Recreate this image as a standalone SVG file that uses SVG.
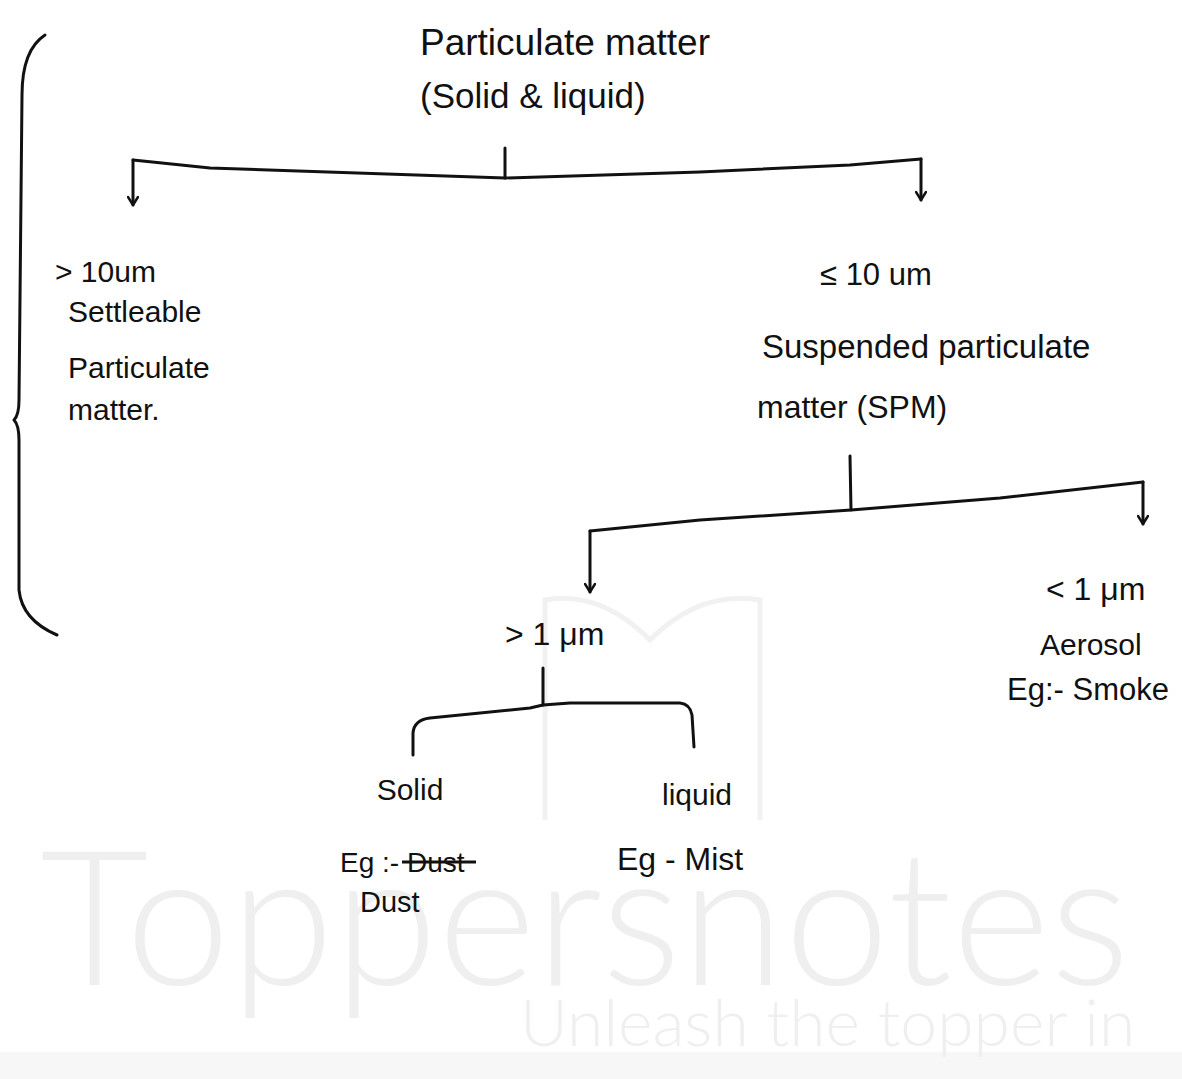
<svg xmlns="http://www.w3.org/2000/svg" width="1182" height="1079" viewBox="0 0 1182 1079">
<style>
.t{font-family:"Liberation Sans","DejaVu Sans",sans-serif;fill:#111;}
.c{fill:none;stroke:#111;stroke-width:3;stroke-linecap:round;stroke-linejoin:round;}
.wm{font-family:Lato,"Open Sans",sans-serif;font-weight:300;fill:#efefef;}
</style>
<defs>
<marker id="ah" viewBox="0 0 12 12" refX="10" refY="6" markerWidth="12" markerHeight="12" markerUnits="userSpaceOnUse" orient="auto">
<path d="M2,1 L10,6 L2,11" fill="none" stroke="#111" stroke-width="2.5" stroke-linecap="round" stroke-linejoin="round"/>
</marker>
</defs>
<rect width="1182" height="1079" fill="#fff"/>
<g id="watermark">
<rect x="0" y="1052" width="1182" height="27" fill="#f7f7f7"/>
<path d="M545,820 L545,600 Q600,590 650,640 Q700,590 760,600 L760,820" fill="none" stroke="#f1f1f1" stroke-width="5"/>
<text class="wm" x="40" y="985" font-size="188">Toppersnotes</text>
<text class="wm" x="520" y="1046" font-size="66">Unleash the topper in</text>
</g>
<g id="connectors">
<path class="c" d="M45,35 Q22,50 22,95 L19,400 Q19,415 14,420 Q19,425 19,440 L19,590 Q22,620 57,635"/>
<path class="c" d="M505,148 L505,178"/>
<path class="c" d="M133,160 L210,168 L505,178 L700,172 L850,165 L921,159"/>
<path class="c" d="M133,160 L133,205" marker-end="url(#ah)"/>
<path class="c" d="M921,159 L921,200" marker-end="url(#ah)"/>
<path class="c" d="M850,456 L851,510"/>
<path class="c" d="M590,531 L700,520 L851,510 L1000,498 L1143,482"/>
<path class="c" d="M590,531 L590,592" marker-end="url(#ah)"/>
<path class="c" d="M1143,482 L1143,524" marker-end="url(#ah)"/>
<path class="c" d="M543,668 L543,705"/>
<path class="c" d="M413,755 L413,733 Q414,720 430,718 L530,708 L543,705 L570,703 L680,703 Q690,704 692,715 L694,747"/>
</g>
<g id="node-root">
<text class="t" x="420" y="55" font-size="37">Particulate matter</text>
<text class="t" x="420" y="108" font-size="35">(Solid &amp; liquid)</text>
</g>
<g id="node-settleable">
<text class="t" x="55" y="282" font-size="30">&gt; 10um</text>
<text class="t" x="68" y="322" font-size="30">Settleable</text>
<text class="t" x="68" y="378" font-size="30">Particulate</text>
<text class="t" x="68" y="420" font-size="30">matter.</text>
</g>
<g id="node-spm">
<text class="t" x="820" y="285" font-size="31">≤ 10 um</text>
<text class="t" x="762" y="358" font-size="33">Suspended particulate</text>
<text class="t" x="757" y="418" font-size="32">matter (SPM)</text>
</g>
<g id="node-gt1">
<text class="t" x="505" y="645" font-size="32">&gt; 1 μm</text>
</g>
<g id="node-aerosol">
<text class="t" x="1046" y="600" font-size="32">&lt; 1 μm</text>
<text class="t" x="1040" y="655" font-size="30">Aerosol</text>
<text class="t" x="1007" y="700" font-size="31">Eg:- Smoke</text>
</g>
<g id="node-solid">
<text class="t" x="410" y="800" font-size="30" text-anchor="middle">Solid</text>
<text class="t" x="340" y="872" font-size="28">Eg :- Dust</text>
<line x1="402" y1="862" x2="476" y2="862" stroke="#111" stroke-width="3"/>
<text class="t" x="360" y="912" font-size="29">Dust</text>
</g>
<g id="node-liquid">
<text class="t" x="697" y="805" font-size="30" text-anchor="middle">liquid</text>
<text class="t" x="617" y="870" font-size="32">Eg - Mist</text>
</g>
</svg>
